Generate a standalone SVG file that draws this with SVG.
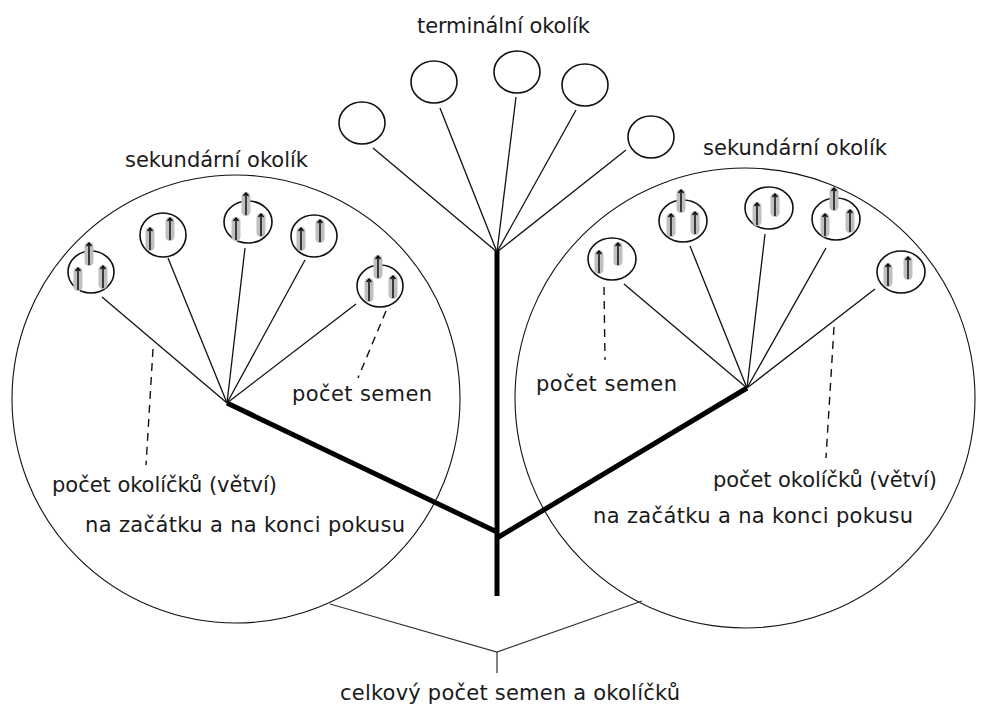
<svg xmlns="http://www.w3.org/2000/svg" xmlns:xlink="http://www.w3.org/1999/xlink" width="988" height="704" viewBox="0 0 988 704">
  <style>
    .lbl { font-family: "DejaVu Sans", "Liberation Sans", sans-serif; font-size: 21px; fill: #1a1a1a; }
    .big { fill: none; stroke: #111; stroke-width: 1.1; }
    .umb { fill: none; stroke: #111; stroke-width: 1.6; }
    .ray { fill: none; stroke: #111; stroke-width: 1.3; }
    .stem { fill: none; stroke: #000; stroke-width: 5; }
    .dash { fill: none; stroke: #111; stroke-width: 1.4; stroke-dasharray: 8 6; }
    .link { fill: none; stroke: #333; stroke-width: 1.2; }
  </style>
  <defs>
    <!-- one seed: grey capsule with a black arrowed line, origin at its top centre -->
    <g id="seed">
      <rect x="-4.5" y="0" width="9" height="24" rx="4.5" fill="#bfbfbf"/>
      <line x1="0" y1="1" x2="0" y2="23" stroke="#000" stroke-width="1.4"/>
      <path d="M-2.5,4 L0,1 L2.5,4" fill="none" stroke="#000" stroke-width="1.2"/>
    </g>
  </defs>
  <rect width="988" height="704" fill="#fff"/>

  <!-- secondary umbels (large outlines) -->
  <g id="secondary-left">
    <circle class="big" cx="236" cy="399" r="224"/>
  </g>
  <g id="secondary-right">
    <circle class="big" cx="745" cy="398" r="230"/>
  </g>

  <!-- connectors: stems, rays, dashed pointers, total bracket -->
  <g id="connectors">
    <line class="stem" x1="497" y1="250" x2="497" y2="596"/>
    <line class="stem" x1="227" y1="403" x2="497" y2="532"/>
    <line class="stem" x1="497" y1="538" x2="747" y2="388"/>

    <!-- terminal umbel rays -->
    <line class="ray" x1="497" y1="252" x2="373" y2="148"/>
    <line class="ray" x1="497" y1="252" x2="440" y2="108"/>
    <line class="ray" x1="497" y1="252" x2="516" y2="97"/>
    <line class="ray" x1="497" y1="252" x2="576" y2="110"/>
    <line class="ray" x1="497" y1="252" x2="626" y2="150"/>

    <!-- left secondary umbel rays -->
    <line class="ray" x1="227" y1="403" x2="102" y2="297"/>
    <line class="ray" x1="227" y1="403" x2="168" y2="258"/>
    <line class="ray" x1="227" y1="403" x2="245" y2="248"/>
    <line class="ray" x1="227" y1="403" x2="305" y2="260"/>
    <line class="ray" x1="227" y1="403" x2="356" y2="304"/>

    <!-- right secondary umbel rays -->
    <line class="ray" x1="747" y1="388" x2="624" y2="284"/>
    <line class="ray" x1="747" y1="388" x2="690" y2="246"/>
    <line class="ray" x1="747" y1="388" x2="765" y2="234"/>
    <line class="ray" x1="747" y1="388" x2="826" y2="248"/>
    <line class="ray" x1="747" y1="388" x2="875" y2="289"/>

    <!-- dashed label pointers -->
    <line class="dash" x1="386" y1="311" x2="358" y2="378"/>
    <line class="dash" x1="153" y1="349" x2="146" y2="465"/>
    <line class="dash" x1="604" y1="287" x2="605" y2="360"/>
    <line class="dash" x1="834" y1="327" x2="826" y2="458"/>

    <!-- total bracket -->
    <polyline class="link" points="330,604 497,652 642,601"/>
    <line class="link" x1="497" y1="652" x2="497" y2="673"/>
  </g>

  <!-- terminal umbel -->
  <g id="terminal-umbel">
    <ellipse class="umb" cx="362" cy="123" rx="23" ry="21"/>
    <ellipse class="umb" cx="434" cy="82" rx="23" ry="21"/>
    <ellipse class="umb" cx="517" cy="72" rx="23" ry="21"/>
    <ellipse class="umb" cx="585" cy="85" rx="23" ry="21"/>
    <ellipse class="umb" cx="651" cy="137" rx="23" ry="21"/>
  </g>

  <!-- left umbellets -->
  <g id="umbellet-l1">
    <ellipse class="umb" cx="91" cy="272" rx="23" ry="21"/>
    <use href="#seed" x="89" y="242"/><use href="#seed" x="78" y="267"/><use href="#seed" x="103" y="265"/>
  </g>
  <g id="umbellet-l2">
    <ellipse class="umb" cx="163" cy="235" rx="23" ry="22"/>
    <use href="#seed" x="150" y="227"/><use href="#seed" x="170" y="217"/>
  </g>
  <g id="umbellet-l3">
    <ellipse class="umb" cx="248" cy="222" rx="24" ry="21"/>
    <use href="#seed" x="246" y="192"/><use href="#seed" x="236" y="217"/><use href="#seed" x="261" y="213"/>
  </g>
  <g id="umbellet-l4">
    <ellipse class="umb" cx="314" cy="236" rx="23" ry="21"/>
    <use href="#seed" x="301" y="227"/><use href="#seed" x="320" y="219"/>
  </g>
  <g id="umbellet-l5">
    <ellipse class="umb" cx="380" cy="286" rx="23" ry="21"/>
    <use href="#seed" x="378" y="255"/><use href="#seed" x="369" y="278"/><use href="#seed" x="393" y="275"/>
  </g>

  <!-- right umbellets -->
  <g id="umbellet-r1">
    <ellipse class="umb" cx="612" cy="259" rx="24" ry="21"/>
    <use href="#seed" x="599" y="250"/><use href="#seed" x="618" y="242"/>
  </g>
  <g id="umbellet-r2">
    <ellipse class="umb" cx="683" cy="221" rx="24" ry="21"/>
    <use href="#seed" x="681" y="189"/><use href="#seed" x="671" y="213"/><use href="#seed" x="695" y="211"/>
  </g>
  <g id="umbellet-r3">
    <ellipse class="umb" cx="769" cy="208" rx="24" ry="21"/>
    <use href="#seed" x="757" y="202"/><use href="#seed" x="775" y="193"/>
  </g>
  <g id="umbellet-r4">
    <ellipse class="umb" cx="836" cy="219" rx="24" ry="21"/>
    <use href="#seed" x="834" y="187"/><use href="#seed" x="825" y="213"/><use href="#seed" x="850" y="209"/>
  </g>
  <g id="umbellet-r5">
    <ellipse class="umb" cx="901" cy="272" rx="24" ry="21"/>
    <use href="#seed" x="888" y="263"/><use href="#seed" x="908" y="256"/>
  </g>

  <!-- labels -->
  <g id="labels">
    <text class="lbl" x="417" y="33" textLength="173">terminální okolík</text>
    <text class="lbl" x="125" y="167" textLength="183">sekundární okolík</text>
    <text class="lbl" x="703" y="155" textLength="184">sekundární okolík</text>
    <text class="lbl" x="292" y="401" textLength="140">počet semen</text>
    <text class="lbl" x="52" y="492" textLength="225">počet okolíčků (větví)</text>
    <text class="lbl" x="85" y="532" textLength="320">na začátku a na konci pokusu</text>
    <text class="lbl" x="536" y="391" textLength="141">počet semen</text>
    <text class="lbl" x="713" y="487" textLength="224">počet okolíčků (větví)</text>
    <text class="lbl" x="593" y="523" textLength="320">na začátku a na konci pokusu</text>
    <text class="lbl" x="340" y="700" textLength="340">celkový počet semen a okolíčků</text>
  </g>
</svg>
